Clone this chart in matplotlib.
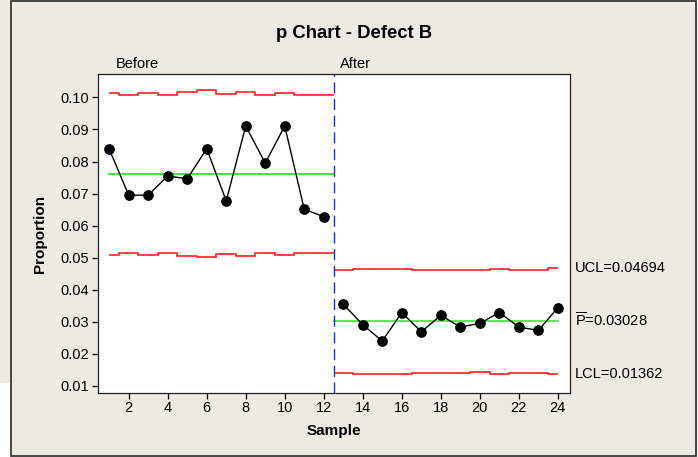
import numpy as np
import matplotlib
matplotlib.use('Agg')
import matplotlib.pyplot as plt
import matplotlib.patches as patches
from matplotlib.ticker import FormatStrFormatter, MultipleLocator
import matplotlib.transforms as mtransforms

plt.rcParams['font.family'] = ['Liberation Sans', 'DejaVu Sans']
plt.rcParams['mathtext.fontset'] = 'custom'
plt.rcParams['mathtext.rm'] = 'Liberation Sans'

# stage 1 - before
before_samples = list(range(1, 13))
before_p = [0.0839, 0.0695, 0.0695, 0.0755, 0.0746, 0.0840,
            0.0677, 0.0911, 0.0795, 0.0911, 0.0651, 0.0628]
before_ucl = [0.10145, 0.10062, 0.10145, 0.10062, 0.10176, 0.10218,
              0.10104, 0.10176, 0.10062, 0.10145, 0.10073, 0.10073]
before_lcl = [0.05083, 0.05156, 0.05083, 0.05156, 0.05050, 0.05010,
              0.05110, 0.05050, 0.05156, 0.05083, 0.05160, 0.05160]
before_center = 0.0761

# stage 2 - after
after_samples = list(range(13, 25))
after_p = [0.0355, 0.0291, 0.0240, 0.0329, 0.0269, 0.0320,
           0.0284, 0.0295, 0.0329, 0.0284, 0.0273, 0.0344]
after_ucl = [0.0462, 0.0465, 0.0465, 0.0465, 0.0462, 0.0462,
             0.0462, 0.0462, 0.0465, 0.0462, 0.0462, 0.04694]
after_lcl = [0.0140, 0.0136, 0.0136, 0.0136, 0.0139, 0.0139,
             0.0139, 0.0143, 0.0136, 0.0139, 0.0139, 0.01362]
after_center = 0.03028

stage_labels = ['Before', 'After']
limit_labels = ['UCL=0.04694', r'$\mathregular{\overline{P}}$=0.03028', 'LCL=0.01362']
limit_values = [0.04694, 0.03028, 0.01362]

bg = '#eeeae1'
W, H = 698, 457

fig = plt.figure(figsize=(W / 100, H / 100), dpi=100, facecolor=bg)
ax = fig.add_axes([97.5 / W, 1 - 393 / H, 472 / W, 319 / H])
ax.set_facecolor('white')


def stage_edges(samples, start, end):
    s = np.array(samples, dtype=float)
    mids = (s[:-1] + s[1:]) / 2
    return np.concatenate([[start], mids, [end]])


split = (before_samples[-1] + after_samples[0]) / 2
e1 = stage_edges(before_samples, before_samples[0], split)
e2 = stage_edges(after_samples, split, after_samples[-1])

for vals, edges in [(before_ucl, e1), (before_lcl, e1), (after_ucl, e2), (after_lcl, e2)]:
    ax.stairs(vals, edges, baseline=None, color='#ff1010', lw=1.1)

ax.plot([before_samples[0], split], [before_center] * 2, color='#44e044', lw=1.4)
ax.plot([split, after_samples[-1]], [after_center] * 2, color='#44e044', lw=1.2)

ax.plot(before_samples, before_p, color='black', lw=1, marker='o', ms=6.7)
ax.plot(after_samples, after_p, color='black', lw=1, marker='o', ms=6.7)

ax.axvline(split, color='#1a2ee0', lw=1, linestyle=(0, (8, 4)))

ax.set_xlim(0.4, 24.6)
ax.set_ylim(0.0078, 0.1073)
ax.xaxis.set_major_locator(MultipleLocator(2))
ax.yaxis.set_major_locator(MultipleLocator(0.01))
ax.yaxis.set_major_formatter(FormatStrFormatter('%.2f'))
ax.tick_params(direction='out', length=4, width=0.9, labelsize=10.5, pad=2, colors='black')
for sp in ax.spines.values():
    sp.set_color('#222222')
    sp.set_linewidth(0.9)

ax.set_xlabel('Sample', fontsize=11, fontweight='bold')
ax.set_ylabel('Proportion', fontsize=11, fontweight='bold')
ax.xaxis.set_label_coords(0.5, (393 - 431) / 319)
ax.xaxis.label.set_va('center')
ax.yaxis.set_label_coords((40 - 97.5) / 472, 0.5)
ax.yaxis.label.set_va('center')

trans = mtransforms.blended_transform_factory(ax.transData, ax.transAxes)
ax.text(1.35, 1.008, stage_labels[0], transform=trans, ha='left', va='bottom', fontsize=10.5)
ax.text(12.85, 1.008, stage_labels[1], transform=trans, ha='left', va='bottom', fontsize=10.5)

trans2 = mtransforms.blended_transform_factory(ax.transAxes, ax.transData)
for lab, v in zip(limit_labels, limit_values):
    ax.text(1.012, v, lab, transform=trans2, ha='left', va='center', fontsize=10.5)

fig.text(354 / W, 1 - 33 / H, 'p Chart - Defect B', ha='center', va='center',
         fontsize=13.3, fontweight='bold')

fig.patches.append(patches.Rectangle((0, 0), 10 / W, 74 / H, transform=fig.transFigure,
                                     facecolor='white', edgecolor='none'))
fig.patches.append(patches.Rectangle((11 / W, 1 / H), 685 / W, 455.5 / H, transform=fig.transFigure,
                                     fill=False, edgecolor='#2a2a2a', lw=1.2))

fig.savefig('out.png', dpi=100, facecolor=bg)
